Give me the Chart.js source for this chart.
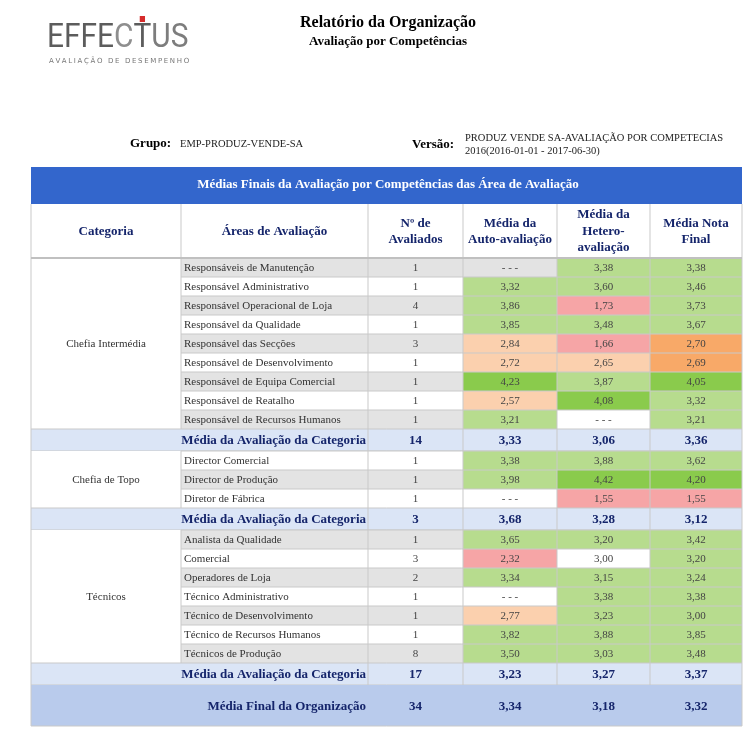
<!DOCTYPE html>
<html>
<head>
<meta charset="utf-8">
<script src="https://cdn.jsdelivr.net/npm/chart.js@4"></script>
<style>
html,body{margin:0;padding:0;background:#fff;}
canvas{display:block;}
</style>
</head>
<body>
<canvas id="c" width="755" height="734"></canvas>
<script>
// ---------- DATA ----------
const reportTitle = 'Relatório da Organização';
const reportSubtitle = 'Avaliação por Competências';
const grupoLabel = 'Grupo:';
const grupoValue = 'EMP-PRODUZ-VENDE-SA';
const versaoLabel = 'Versão:';
const versaoLines = ['PRODUZ VENDE SA-AVALIAÇÃO POR COMPETECIAS', '2016(2016-01-01 - 2017-06-30)'];
const tableTitle = 'Médias Finais da Avaliação por Competências das Área de Avaliação';
const columnHeaders = [['Categoria'], ['Áreas de Avaliação'], ['Nº de', 'Avaliados'], ['Média da', 'Auto-avaliação'], ['Média da', 'Hetero-', 'avaliação'], ['Média Nota', 'Final']];

const categories = ['Chefia Intermédia', 'Chefia de Topo', 'Técnicos'];
const areas = [
  'Responsáveis de Manutenção', 'Responsável Administrativo', 'Responsável Operacional de Loja',
  'Responsável da Qualidade', 'Responsável das Secções', 'Responsável de Desenvolvimento',
  'Responsável de Equipa Comercial', 'Responsável de Reatalho', 'Responsável de Recursos Humanos',
  'Director Comercial', 'Director de Produção', 'Diretor de Fábrica',
  'Analista da Qualidade', 'Comercial', 'Operadores de Loja', 'Técnico Administrativo',
  'Técnico de Desenvolvimento', 'Técnico de Recursos Humanos', 'Técnicos de Produção'
];
const areaCategory = [0,0,0,0,0,0,0,0,0, 1,1,1, 2,2,2,2,2,2,2];
const nAvaliados = [1,1,4,1,3,1,1,1,1, 1,1,1, 1,3,2,1,1,1,8];
const autoAvaliacao = [null,3.32,3.86,3.85,2.84,2.72,4.23,2.57,3.21, 3.38,3.98,null, 3.65,2.32,3.34,null,2.77,3.82,3.50];
const heteroAvaliacao = [3.38,3.60,1.73,3.48,1.66,2.65,3.87,4.08,null, 3.88,4.42,1.55, 3.20,3.00,3.15,3.38,3.23,3.88,3.03];
const notaFinal = [3.38,3.46,3.73,3.67,2.70,2.69,4.05,3.32,3.21, 3.62,4.20,1.55, 3.42,3.20,3.24,3.38,3.00,3.85,3.48];

const subtotalLabel = 'Média da Avaliação da Categoria';
const catN = [14, 3, 17];
const catAuto = [3.33, 3.68, 3.23];
const catHetero = [3.06, 3.28, 3.27];
const catFinal = [3.36, 3.12, 3.37];

const orgLabel = 'Média Final da Organização';
const orgN = 34;
const orgAuto = 3.34;
const orgHetero = 3.18;
const orgFinal = 3.32;

// ---------- LAYOUT / STYLE ----------
const W = 755, H = 734;
const colX = [31, 181, 368, 463, 557, 650, 742];
const bandTop = 167, bandBottom = 204, headBottom = 258;
const rowH = 19, subH = 22, orgH = 41;
const SERIF = '"Liberation Serif", "Times New Roman", serif';
const NAVY = '#15256b';
const GRID = '#c9c9c9';
const C = {
  grayRow: '#e3e3e3', sub: '#dbe5f6', org: '#b9cbec', band: '#3366cc',
  green: '#b7dc8e', dgreen: '#8acb4c', pink: '#f6a5a6', peach: '#fbd0ae', orange: '#f8a968'
};
const fmt = v => v == null ? '- - -' : v.toFixed(2).replace('.', ',');
function avgColor(v) { // auto / hetero columns
  if (v == null) return null;
  if (v >= 4) return C.dgreen;
  if (v > 3) return C.green;
  if (v >= 2.5 && v < 3) return C.peach;
  if (v < 2.5) return C.pink;
  return null;
}
function finalColor(v) {
  if (v == null) return null;
  if (v >= 4) return C.dgreen;
  if (v >= 3) return C.green;
  if (v >= 2) return C.orange;
  return C.pink;
}

const tablePlugin = {
  id: 'reportTable',
  afterDraw(chart) {
    const ctx = chart.ctx;
    const sx = chart.scales.x, sy = chart.scales.y;
    const px = v => sx.getPixelForValue(v);
    const py = v => sy.getPixelForValue(v);
    const rect = (x0, y0, x1, y1, fill) => {
      ctx.fillStyle = fill;
      ctx.fillRect(px(x0), py(y0), px(x1) - px(x0), py(y1) - py(y0));
    };
    const line = (x0, y0, x1, y1, col, w) => {
      ctx.strokeStyle = col || GRID; ctx.lineWidth = w || 1;
      ctx.beginPath(); ctx.moveTo(px(x0), py(y0)); ctx.lineTo(px(x1), py(y1)); ctx.stroke();
    };
    const text = (s, x, y, font, color, align) => {
      ctx.font = font; ctx.fillStyle = color; ctx.textAlign = align || 'center'; ctx.textBaseline = 'middle';
      ctx.fillText(s, px(x), py(y));
    };
    ctx.save();

    // ---- logo ----
    ctx.save();
    ctx.font = '400 34px Roboto';
    const logoW = ctx.measureText('EFFECTUS').width;
    ctx.translate(px(47), py(47));
    ctx.scale(141 / logoW, 1);
    ctx.textAlign = 'left'; ctx.textBaseline = 'alphabetic';
    ctx.fillStyle = '#5c5c5c';
    ctx.fillText('EFFE', 0, 0);
    const w4 = ctx.measureText('EFFE').width;
    ctx.fillStyle = '#8e8e8e';
    ctx.fillText('C', w4, 0);
    const w5 = ctx.measureText('EFFEC').width;
    ctx.fillStyle = '#5c5c5c';
    ctx.fillText('T', w5, 0);
    const wT = ctx.measureText('T').width;
    ctx.fillStyle = '#7d7d7d';
    ctx.fillText('US', w5 + wT, 0);
    ctx.fillStyle = '#d62c2c';
    ctx.fillRect(w5 + wT / 2 - 3, -31, 6, 6);
    ctx.restore();
    ctx.save();
    ctx.font = '7px "DejaVu Sans"';
    ctx.fillStyle = '#777';
    ctx.textAlign = 'left'; ctx.textBaseline = 'middle';
    const sub = 'AVALIAÇÃO DE DESEMPENHO';
    let sw = ctx.measureText(sub).width;
    const gap = (139 - sw) / (sub.length - 1);
    let cx = px(49);
    for (const ch of sub) { ctx.fillText(ch, cx, py(61)); cx += ctx.measureText(ch).width + gap; }
    ctx.restore();

    // ---- titles ----
    text(reportTitle, 388, 23, 'bold 16px ' + SERIF, '#000');
    text(reportSubtitle, 388, 42, 'bold 13px ' + SERIF, '#000');
    text(grupoLabel, 130, 144, 'bold 13px ' + SERIF, '#000', 'left');
    text(grupoValue, 180, 144, '10.5px ' + SERIF, '#222', 'left');
    text(versaoLabel, 412, 145, 'bold 13px ' + SERIF, '#000', 'left');
    text(versaoLines[0], 465, 138, '10.5px ' + SERIF, '#222', 'left');
    text(versaoLines[1], 465, 151, '10.5px ' + SERIF, '#222', 'left');

    // ---- blue band ----
    rect(colX[0], bandTop, colX[6], bandBottom, C.band);
    text(tableTitle, 388, 185, 'bold 13px ' + SERIF, '#fff');

    // ---- column headers ----
    rect(colX[0], bandBottom, colX[6], headBottom, '#fff');
    for (let c = 0; c < 6; c++) {
      const lines = columnHeaders[c];
      const mid = (bandBottom + headBottom) / 2 + 0.5;
      const cxm = (colX[c] + colX[c + 1]) / 2;
      lines.forEach((s, i) => text(s, cxm, mid + (i - (lines.length - 1) / 2) * 16.5, 'bold 13px ' + SERIF, NAVY));
    }
    for (let c = 1; c < 6; c++) line(colX[c], bandBottom, colX[c], headBottom);

    // ---- body ----
    let y = headBottom;
    let gi = 0;
    for (let g = 0; g < categories.length; g++) {
      const idx = areaCategory.map((cat, i) => cat === g ? i : -1).filter(i => i >= 0);
      const gTop = y;
      rect(colX[0], gTop, colX[1], gTop + idx.length * rowH, '#fff');
      idx.forEach(i => {
        const y0 = y, y1 = y + rowH, ym = y + rowH / 2 + 0.5;
        const rowBg = (gi % 2 === 0) ? C.grayRow : '#fff';
        rect(colX[1], y0, colX[3], y1, rowBg);
        const ac = avgColor(autoAvaliacao[i]);
        rect(colX[3], y0, colX[4], y1, ac || rowBg);
        const hc = avgColor(heteroAvaliacao[i]);
        rect(colX[4], y0, colX[5], y1, hc || '#fff');
        const fc = finalColor(notaFinal[i]);
        rect(colX[5], y0, colX[6], y1, fc || rowBg);
        const f = '11px ' + SERIF;
        text(areas[i], colX[1] + 3, ym, f, '#333', 'left');
        text(String(nAvaliados[i]), (colX[2] + colX[3]) / 2, ym, f, '#444');
        text(fmt(autoAvaliacao[i]), (colX[3] + colX[4]) / 2, ym, f, '#444');
        text(fmt(heteroAvaliacao[i]), (colX[4] + colX[5]) / 2, ym, f, '#444');
        text(fmt(notaFinal[i]), (colX[5] + colX[6]) / 2, ym, f, '#444');
        line(colX[1], y0, colX[6], y0);
        y = y1; gi++;
      });
      text(categories[g], (colX[0] + colX[1]) / 2, (gTop + y) / 2 + 1, '11px ' + SERIF, '#333');
      for (let c = 1; c < 6; c++) line(colX[c], gTop, colX[c], y);
      // subtotal row
      rect(colX[0], y, colX[6], y + subH, C.sub);
      line(colX[0], y, colX[6], y);
      const sm = y + subH / 2 + 0.5;
      const bf = 'bold 13px ' + SERIF;
      text(subtotalLabel, colX[2] - 2, sm, bf, NAVY, 'right');
      text(String(catN[g]), (colX[2] + colX[3]) / 2, sm, bf, NAVY);
      text(fmt(catAuto[g]), (colX[3] + colX[4]) / 2, sm, bf, NAVY);
      text(fmt(catHetero[g]), (colX[4] + colX[5]) / 2, sm, bf, NAVY);
      text(fmt(catFinal[g]), (colX[5] + colX[6]) / 2, sm, bf, NAVY);
      for (let c = 2; c < 6; c++) line(colX[c], y, colX[c], y + subH);
      y += subH;
      line(colX[0], y, colX[6], y);
    }
    // organisation row
    rect(colX[0], y, colX[6], y + orgH, C.org);
    const om = y + orgH / 2 + 1;
    const bf = 'bold 13px ' + SERIF;
    text(orgLabel, colX[2] - 2, om, bf, NAVY, 'right');
    text(String(orgN), (colX[2] + colX[3]) / 2, om, bf, NAVY);
    text(fmt(orgAuto), (colX[3] + colX[4]) / 2, om, bf, NAVY);
    text(fmt(orgHetero), (colX[4] + colX[5]) / 2, om, bf, NAVY);
    text(fmt(orgFinal), (colX[5] + colX[6]) / 2, om, bf, NAVY);
    y += orgH;
    line(colX[0], y, colX[6], y);
    // outer borders
    line(colX[0], bandBottom, colX[0], y);
    line(colX[6], bandBottom, colX[6], y);
    line(colX[0], headBottom, colX[6], headBottom, '#c0c0c0', 2);
    ctx.restore();
  }
};

new Chart(document.getElementById('c'), {
  type: 'scatter',
  data: { datasets: [] },
  options: {
    responsive: false,
    animation: false,
    layout: { padding: 0 },
    plugins: { legend: { display: false }, tooltip: { enabled: false } },
    scales: {
      x: { type: 'linear', min: 0, max: W, display: false },
      y: { type: 'linear', min: 0, max: H, reverse: true, display: false }
    }
  },
  plugins: [tablePlugin]
});
</script>
</body>
</html>
